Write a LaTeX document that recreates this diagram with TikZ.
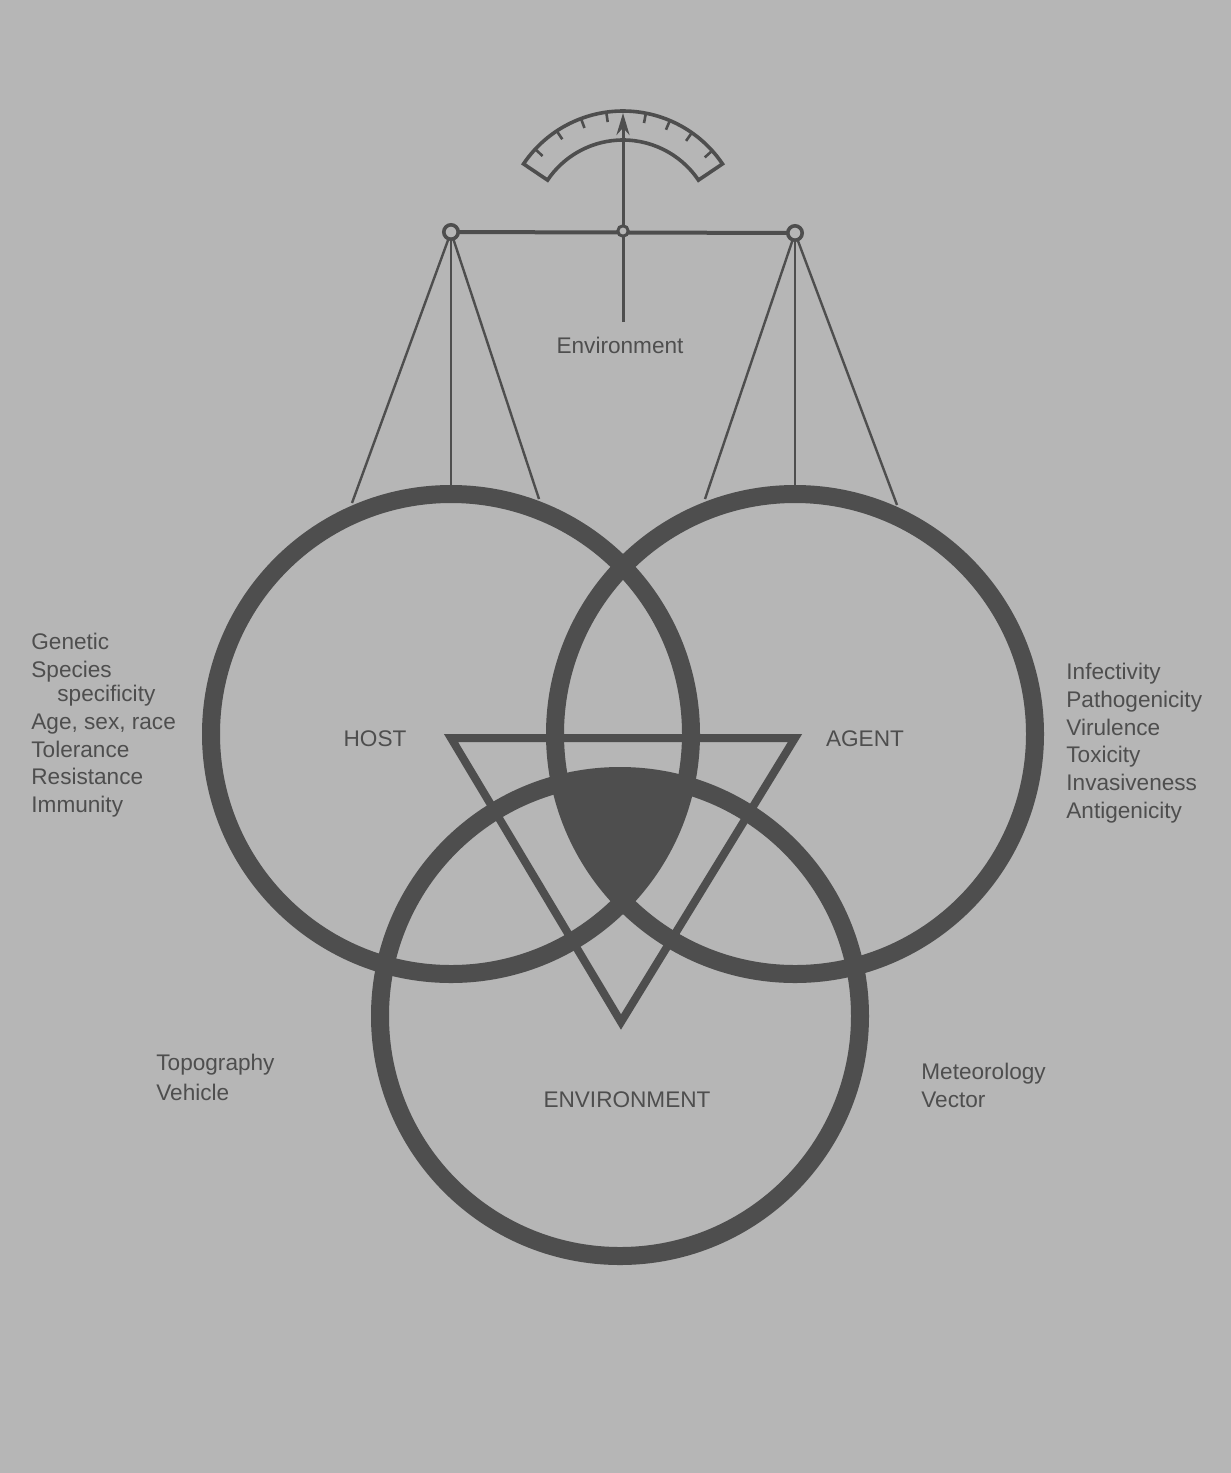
\documentclass[tikz,border=0pt]{standalone}
\usepackage{fontspec}
\setmainfont{Liberation Sans}
\usetikzlibrary{calc,arrows.meta}
\definecolor{bg}{RGB}{182,182,182}
\definecolor{ink}{RGB}{78,78,78}
\tikzset{
  ring/.style={draw=ink,line width=9pt},
  lbl/.style={inner sep=0pt,text=ink,font=\fontsize{11.3pt}{13.5pt}\selectfont},
  hang/.style={draw=ink,line width=1.2pt},
  gauge/.style={draw=ink,line width=1.8pt},
}
\begin{document}
\begin{tikzpicture}[x=0.5pt,y=-0.5pt]
\fill[bg] (0,0) rectangle (1231,1473);
\useasboundingbox (0,0) rectangle (1231,1473);
% centres
\coordinate (hostc) at (451,734);
\coordinate (agentc) at (795,734);
\coordinate (envc) at (620,1016);
% black triple intersection
\begin{scope}
  \clip (hostc) circle[radius=120pt];
  \clip (agentc) circle[radius=120pt];
  \fill[ink] (envc) circle[radius=120pt];
\end{scope}
% triangle
\coordinate (t1) at (451,738);
\coordinate (t2) at (795,738);
\coordinate (t3) at (621,1022);
\draw[ink,line width=4pt,line join=miter] (t1) -- (t2) -- (t3) -- cycle;
% circles
\draw[ring] (hostc) circle[radius=120pt];
\draw[ring] (agentc) circle[radius=120pt];
\draw[ring] (envc) circle[radius=120pt];
% balance
\coordinate (hl) at (451,232);
\coordinate (hr) at (795,233);
\coordinate (piv) at (623,231);
\coordinate (hA) at (352,503);
\coordinate (hB) at (451,485);
\coordinate (hC) at (539,499);
\coordinate (aA) at (705,499);
\coordinate (aB) at (795,485);
\coordinate (aC) at (897,505);
\draw[hang] (hl) -- (hA);
\draw[hang] (hl) -- (hB);
\draw[hang] (hl) -- (hC);
\draw[hang] (hr) -- (aA);
\draw[hang] (hr) -- (aB);
\draw[hang] (hr) -- (aC);
\draw[ink,line width=2pt] (hl) -- (hr);
% needle
\coordinate (nb) at (623,322);
\coordinate (nt) at (623,113);
\draw[ink,line width=1.5pt,-{Stealth[length=11pt,width=6.5pt]}] (nb) -- (nt);
% gauge
\draw[gauge,line join=miter] ($(piv)+(146:60pt)$) arc[start angle=146,end angle=34,radius=60pt]
  -- ($(piv)+(34:45.5pt)$) arc[start angle=34,end angle=146,radius=45.5pt] -- cycle;
\foreach \a in {42,55,67,79,98,110.5,123.5,137}
  \draw[gauge,line width=1.3pt] ($(piv)+(\a:60pt)$) -- ($(piv)+(\a:55pt)$);
% rings
\draw[ink,line width=1.8pt,fill=bg] (hl) circle[radius=3.6pt];
\draw[ink,line width=1.8pt,fill=bg] (hr) circle[radius=3.6pt];
\draw[ink,line width=1.5pt,fill=bg] (piv) circle[radius=2.6pt];
% labels
\node[lbl,anchor=base] (envtop) at (620,353) {Environment};
\node[lbl,anchor=base] (host) at (375,746) {HOST};
\node[lbl,anchor=base] (agent) at (865,746) {AGENT};
\node[lbl,anchor=base] (envb) at (627,1107) {ENVIRONMENT};
\node[lbl,anchor=base west] (l1) at (31,649) {Genetic};
\node[lbl,anchor=base west] (l2) at (31,677) {Species};
\node[lbl,anchor=base west] (l3) at (57,701) {specificity};
\node[lbl,anchor=base west] (l4) at (31,729) {Age, sex, race};
\node[lbl,anchor=base west] (l5) at (31,757) {Tolerance};
\node[lbl,anchor=base west] (l6) at (31,784) {Resistance};
\node[lbl,anchor=base west] (l7) at (31,812) {Immunity};
\node[lbl,anchor=base west] (r1) at (1066,679) {Infectivity};
\node[lbl,anchor=base west] (r2) at (1066,707) {Pathogenicity};
\node[lbl,anchor=base west] (r3) at (1066,735) {Virulence};
\node[lbl,anchor=base west] (r4) at (1066,762) {Toxicity};
\node[lbl,anchor=base west] (r5) at (1066,790) {Invasiveness};
\node[lbl,anchor=base west] (r6) at (1066,818) {Antigenicity};
\node[lbl,anchor=base west] (b1) at (156,1070) {Topography};
\node[lbl,anchor=base west] (b2) at (156,1100) {Vehicle};
\node[lbl,anchor=base west] (b3) at (921,1079) {Meteorology};
\node[lbl,anchor=base west] (b4) at (921,1107) {Vector};
\end{tikzpicture}
\end{document}
